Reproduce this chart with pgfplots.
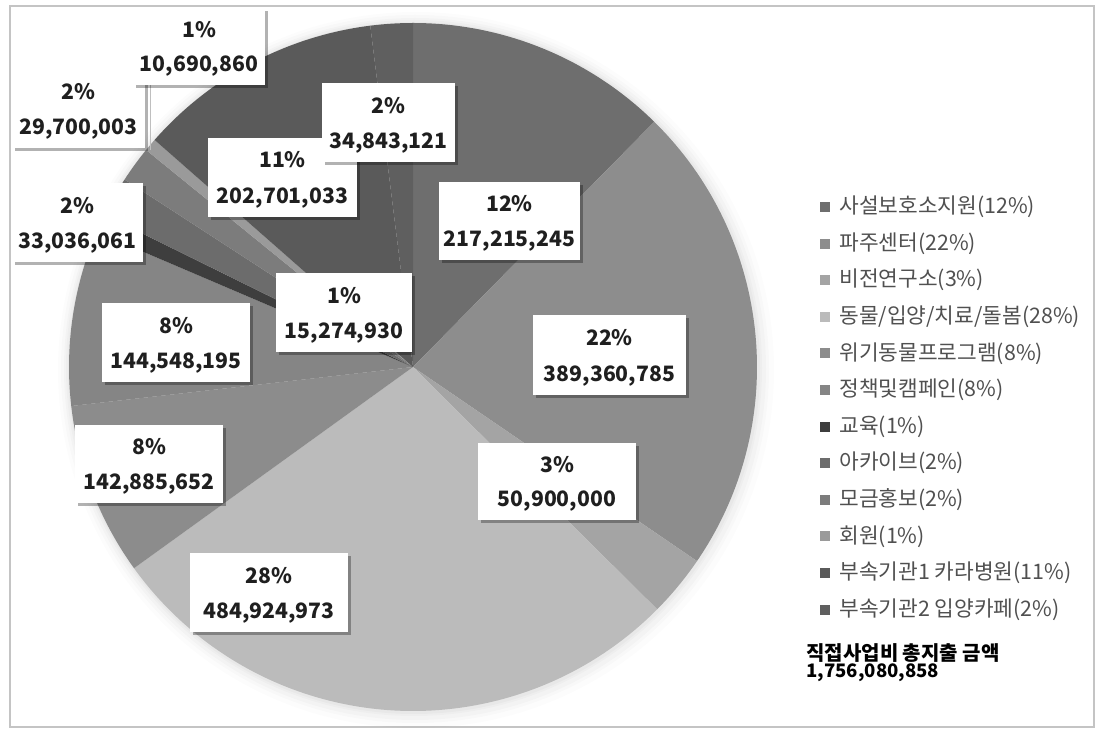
\documentclass[border=0pt]{standalone}
\usepackage{pgfplots}
\pgfplotsset{compat=1.18}
\usepackage{fontspec}
\setmainfont{Noto Sans CJK KR}
\definecolor{s1}{HTML}{6E6E6E}
\definecolor{s2}{HTML}{8D8D8D}
\definecolor{s3}{HTML}{A4A4A4}
\definecolor{s4}{HTML}{BBBBBB}
\definecolor{s5}{HTML}{8C8C8C}
\definecolor{s6}{HTML}{858585}
\definecolor{s7}{HTML}{3E3E3E}
\definecolor{s8}{HTML}{6C6C6C}
\definecolor{s9}{HTML}{7C7C7C}
\definecolor{s10}{HTML}{9A9A9A}
\definecolor{s11}{HTML}{5A5A5A}
\definecolor{s12}{HTML}{5F5F5F}
\definecolor{frame}{HTML}{C4C4C4}
\definecolor{legtext}{HTML}{505050}
% values in millions (won): sum = 1756.080858
\def\total{1756.080858}
\def\cur{90}
\newcommand\pieslice[2]{%
  \pgfmathsetmacro\nxt{\cur-360*(#1/\total)}%
  \edef\temp{\noexpand\fill[#2] (axis cs:413,367) -- ++(\cur:172pt) arc[start angle=\cur, end angle=\nxt, radius=172pt] -- cycle;}%
  \temp
  \global\let\cur\nxt}
\newcommand\lbl[6]{%
  \fill[black, opacity=0.30] (axis cs:{#1+3},{#2+3}) rectangle (axis cs:{#3+3},{#4+3});
  \fill[white] (axis cs:#1,#2) rectangle (axis cs:#3,#4);
  \node[font=\bfseries\fontsize{10.6}{13}\selectfont, text=black!88, inner sep=0pt] at (axis cs:{(#1+#3)/2},{#2+0.28*(#4-#2)}) {#5};
  \node[font=\bfseries\fontsize{10.6}{13}\selectfont, text=black!88, inner sep=0pt] at (axis cs:{(#1+#3)/2},{#2+0.76*(#4-#2)}) {#6};
}
\newcommand\leg[3]{%
  \fill[#2] (axis cs:820,{#1-5}) rectangle (axis cs:830,{#1+5});
  \node[anchor=west, font=\fontsize{10.7}{12}\selectfont, text=legtext, inner sep=0pt] at (axis cs:839,#1) {#3};
}
\begin{document}
\begin{tikzpicture}
\begin{axis}[
  scale only axis, width=548.5pt, height=365pt,
  xmin=0, xmax=1097, ymin=0, ymax=730, y dir=reverse,
  hide axis, clip=false]
\path (axis cs:0,0) rectangle (axis cs:1097,730);
\draw[frame, line width=1pt] (axis cs:10,6) rectangle (axis cs:1094,727);
% soft shadow around pie
\fill[black, opacity=0.012] (axis cs:416,370) circle[radius=179pt];
\fill[black, opacity=0.015] (axis cs:415,369) circle[radius=177pt];
\fill[black, opacity=0.018] (axis cs:415,369) circle[radius=175.5pt];
\fill[black, opacity=0.02] (axis cs:414,368) circle[radius=174pt];
\fill[black, opacity=0.025] (axis cs:414,368) circle[radius=173pt];
% slices, clockwise from 12 o'clock
\pieslice{217.215245}{s1}
\pieslice{389.360785}{s2}
\pieslice{50.900000}{s3}
\pieslice{484.924973}{s4}
\pieslice{142.885652}{s5}
\pieslice{144.548195}{s6}
\pieslice{15.274930}{s7}
\pieslice{33.036061}{s8}
\pieslice{29.700003}{s9}
\pieslice{10.690860}{s10}
\pieslice{202.701033}{s11}
\pieslice{34.843121}{s12}
% leader line
\draw[black!25, line width=0.5pt] (axis cs:150,85) -- (axis cs:150,150);
% data labels
\lbl{439}{182}{580}{260}{12\%}{217,215,245}
\lbl{533}{315}{686}{395}{22\%}{389,360,785}
\lbl{478}{443}{636}{520}{3\%}{50,900,000}
\lbl{190}{553}{348}{632}{28\%}{484,924,973}
\lbl{75}{425}{223}{503}{8\%}{142,885,652}
\lbl{102}{303}{250}{382}{8\%}{144,548,195}
\lbl{276}{273}{412}{352}{1\%}{15,274,930}
\lbl{12}{183}{143}{262}{2\%}{33,036,061}
\lbl{12}{70}{145}{148}{2\%}{29,700,003}
\lbl{133}{8}{265}{85}{1\%}{10,690,860}
\lbl{208}{138}{357}{217}{11\%}{202,701,033}
\lbl{322}{83}{455}{162}{2\%}{34,843,121}
% legend
\leg{207}{s1}{사설보호소지원(12\%)}
\leg{243.6}{s2}{파주센터(22\%)}
\leg{280.2}{s3}{비전연구소(3\%)}
\leg{316.8}{s4}{동물/입양/치료/돌봄(28\%)}
\leg{353.4}{s5}{위기동물프로그램(8\%)}
\leg{390}{s6}{정책및캠페인(8\%)}
\leg{426.6}{s7}{교육(1\%)}
\leg{463.2}{s8}{아카이브(2\%)}
\leg{499.8}{s9}{모금홍보(2\%)}
\leg{536.4}{s10}{회원(1\%)}
\leg{573}{s11}{부속기관1 카라병원(11\%)}
\leg{609.6}{s12}{부속기관2 입양카페(2\%)}
\node[anchor=west, font=\bfseries\fontsize{10}{10}\selectfont, inner sep=0pt] at (axis cs:806,653) {직접사업비 총지출 금액};
\node[anchor=west, font=\bfseries\fontsize{9.3}{10}\selectfont, inner sep=0pt] at (axis cs:806,673) {1,756,080,858};
\end{axis}
\end{tikzpicture}
\end{document}
